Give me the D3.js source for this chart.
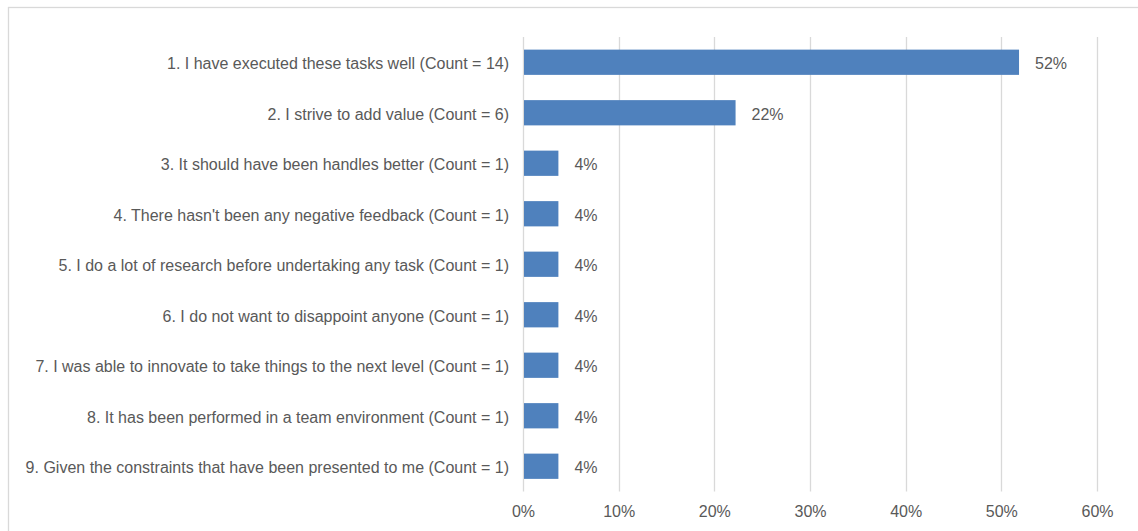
<!DOCTYPE html>
<html><head><meta charset="utf-8">
<script src="https://cdn.jsdelivr.net/npm/d3@7"></script>
<style>
html,body{margin:0;padding:0;background:#fff;}
svg{display:block;}
text{font-family:"Liberation Sans",Arial,sans-serif;fill:#595959;}
</style></head><body>
<svg id="c" width="1138" height="531"></svg>
<script>
const categories = [
  "1. I have executed these tasks well (Count = 14)",
  "2. I strive to add value (Count = 6)",
  "3. It should have been handles better (Count = 1)",
  "4. There hasn't been any negative feedback (Count = 1)",
  "5. I do a lot of research before undertaking any task (Count = 1)",
  "6. I do not want to disappoint anyone (Count = 1)",
  "7. I was able to innovate to take things to the next level (Count = 1)",
  "8. It has been performed in a team environment (Count = 1)",
  "9. Given the constraints that have been presented to me (Count = 1)"
];
const values = [51.85, 22.22, 3.70, 3.70, 3.70, 3.70, 3.70, 3.70, 3.70];
const valueLabels = ["52%", "22%", "4%", "4%", "4%", "4%", "4%", "4%", "4%"];
const xTicks = [0, 10, 20, 30, 40, 50, 60];

(function(){
const svg = d3.select("#c");
const FS = "16px";
// outer border
svg.append("rect").attr("x", 8.5).attr("y", 7.5).attr("width", 1140).attr("height", 540)
  .attr("fill", "none").attr("stroke", "#d9d9d9").attr("stroke-width", 1.3);

const pLeft = 523, pRight = 1097, pTop = 37, pBottom = 491.5;
const x = d3.scaleLinear().domain([0, 60]).range([pLeft, pRight]);
const y = d3.scaleBand().domain(categories).range([pTop, pBottom]).paddingInner(0.5).paddingOuter(0.25);

// gridlines
svg.append("g").selectAll("line").data(xTicks).join("line")
  .attr("x1", d => Math.round(x(d)) + 0.5).attr("x2", d => Math.round(x(d)) + 0.5)
  .attr("y1", pTop).attr("y2", pBottom)
  .attr("stroke", "#d9d9d9").attr("stroke-width", 1.3);

// x axis labels
const xAxis = d3.axisBottom(x).tickValues(xTicks).tickFormat(d => d + "%").tickSize(0).tickPadding(14);
const gx = svg.append("g").attr("transform", `translate(0,${pBottom})`).call(xAxis);
gx.select(".domain").remove();
gx.selectAll("text").style("font-size", FS).attr("fill", "#595959").style("font-family", "'Liberation Sans',Arial,sans-serif");

// y axis labels
const yAxis = d3.axisLeft(y).tickSize(0).tickPadding(14);
const gy = svg.append("g").attr("transform", `translate(${pLeft},0)`).call(yAxis);
gy.select(".domain").remove();
gy.selectAll("text").style("font-size", FS).attr("dy", "0.45em").attr("fill", "#595959").style("font-family", "'Liberation Sans',Arial,sans-serif");

// bars
svg.append("g").selectAll("rect").data(values).join("rect")
  .attr("x", x(0) + 1).attr("y", (d, i) => y(categories[i]))
  .attr("width", d => x(d) - x(0) - 1).attr("height", y.bandwidth())
  .attr("fill", "#4f81bd");

// value labels
svg.append("g").selectAll("text").data(values).join("text")
  .attr("x", d => x(d) + 16).attr("y", (d, i) => y(categories[i]) + y.bandwidth() / 2)
  .attr("dy", "0.45em").style("font-size", FS)
  .text((d, i) => valueLabels[i]);
})();
</script>
</body></html>
